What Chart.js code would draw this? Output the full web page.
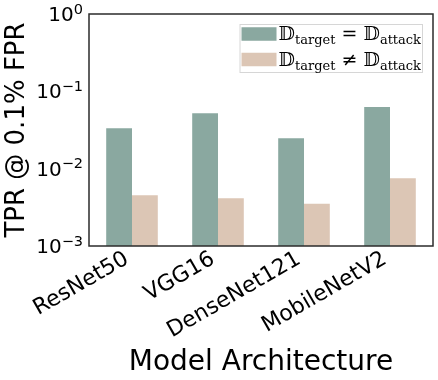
<!DOCTYPE html>
<html><head><meta charset="utf-8">
<script src="https://cdn.jsdelivr.net/npm/chart.js@4"></script>
<style>html,body{margin:0;padding:0;background:#fff}</style>
</head><body>
<canvas id="c" width="438" height="380" style="display:block;width:438px;height:380px"></canvas>
<script>
const categories = ['ResNet50', 'VGG16', 'DenseNet121', 'MobileNetV2'];
const sameDist = [0.0333, 0.052, 0.0247, 0.0627];
const diffDist = [0.00453, 0.00414, 0.00352, 0.0075];
const seriesLabels = ['𝔻_{target} = 𝔻_{attack}', '𝔻_{target} ≠ 𝔻_{attack}'];
const seriesColors = ['#8aa8a0', '#dcc6b5'];
const yTickValues = [0.001, 0.01, 0.1, 1];
const yTickBase = '10';
const yTickExponents = ['−3', '−2', '−1', '0'];
const xTitle = 'Model Architecture';
const yTitle = 'TPR @ 0.1% FPR';

const FONT = "'DejaVu Sans', sans-serif";
const SERIF = "'DejaVu Serif', serif";

const frameAndLegend = {
  id: 'frameAndLegend',
  afterDraw(chart) {
    const ctx = chart.ctx, a = chart.chartArea;
    ctx.save();
    // frame
    ctx.strokeStyle = '#2b2b2b';
    ctx.lineWidth = 1.5;
    ctx.strokeRect(a.left, a.top, a.right - a.left, a.bottom - a.top);
    // y tick labels with superscript exponents
    const ys = chart.scales.y;
    ctx.fillStyle = '#000';
    ctx.textAlign = 'right';
    ctx.textBaseline = 'alphabetic';
    yTickValues.forEach((v, i) => {
      const py = ys.getPixelForValue(v);
      const right = a.left - 6;
      ctx.font = '14.5px ' + FONT;
      const ew = ctx.measureText(yTickExponents[i]).width;
      ctx.fillText(yTickExponents[i], right, py - 0.5);
      ctx.font = '20px ' + FONT;
      ctx.fillText(yTickBase, right - ew, py + 7);
    });
    // legend
    const mainSize = 19, subSize = 13;
    const parse = s => {
      const parts = []; const re = /_\{([^}]*)\}/g; let last = 0, m;
      while ((m = re.exec(s))) {
        if (m.index > last) parts.push({t: s.slice(last, m.index), sub: false});
        parts.push({t: m[1], sub: true}); last = re.lastIndex;
      }
      if (last < s.length) parts.push({t: s.slice(last), sub: false});
      return parts;
    };
    const rows = chart.data.datasets.map(ds => parse(ds.label));
    const widthOf = parts => parts.reduce((w, p) => {
      ctx.font = (p.sub ? subSize : mainSize) + 'px ' + SERIF;
      return w + ctx.measureText(p.t).width;
    }, 0);
    const textW = Math.max(...rows.map(widthOf));
    const swW = 35, swH = 13.5, pad = 2, gap = 2;
    const boxW = pad + swW + gap + textW + pad;
    const boxH = 49;
    const bx = a.right - 10 - boxW, by = a.top + 10;
    ctx.fillStyle = 'rgba(255,255,255,0.85)';
    ctx.fillRect(bx, by, boxW, boxH);
    ctx.strokeStyle = '#d6d6d6';
    ctx.lineWidth = 1;
    ctx.strokeRect(bx + 0.5, by + 0.5, boxW - 1, boxH - 1);
    rows.forEach((parts, i) => {
      const cy = by + 10 + i * 25.5;
      ctx.fillStyle = chart.data.datasets[i].backgroundColor;
      ctx.fillRect(bx + pad, cy - swH / 2, swW, swH);
      let x = bx + pad + swW + gap;
      ctx.fillStyle = '#000';
      ctx.textBaseline = 'alphabetic';
      ctx.textAlign = 'left';
      parts.forEach(p => {
        ctx.font = (p.sub ? subSize : mainSize) + 'px ' + SERIF;
        ctx.fillText(p.t, x, cy + 6 + (p.sub ? 4 : 0));
        x += ctx.measureText(p.t).width;
      });
    });
    ctx.restore();
  }
};

new Chart(document.getElementById('c'), {
  type: 'bar',
  data: {
    labels: categories,
    datasets: [
      {label: seriesLabels[0], data: sameDist, backgroundColor: seriesColors[0], borderWidth: 0},
      {label: seriesLabels[1], data: diffDist, backgroundColor: seriesColors[1], borderWidth: 0}
    ]
  },
  options: {
    responsive: false,
    devicePixelRatio: 1,
    animation: false,
    layout: {padding: {top: 14, right: 5, left: 0, bottom: 0}},
    datasets: {bar: {categoryPercentage: 0.6, barPercentage: 1.0}},
    plugins: {legend: {display: false}, tooltip: {enabled: false}},
    scales: {
      x: {
        grid: {display: false, drawTicks: false},
        border: {display: false},
        ticks: {
          color: '#000', font: {family: FONT, size: 22},
          minRotation: 30, maxRotation: 30, padding: 0, labelOffset: -5, autoSkip: false
        },
        title: {display: true, text: xTitle, color: '#000', font: {family: FONT, size: 28}, padding: {top: 7, bottom: 0}},
        afterFit(scale) { scale.height = 134; }
      },
      y: {
        type: 'logarithmic',
        min: 0.001, max: 1,
        grid: {display: false, drawTicks: false},
        border: {display: false},
        afterBuildTicks(scale) { scale.ticks = yTickValues.map(v => ({value: v, major: true})); },
        ticks: {display: false},
        title: {display: true, text: yTitle, color: '#000', font: {family: FONT, size: 26}, padding: {top: 2, bottom: 0}},
        afterFit(scale) { scale.width = 89; }
      }
    }
  },
  plugins: [frameAndLegend]
});
</script>
</body></html>
